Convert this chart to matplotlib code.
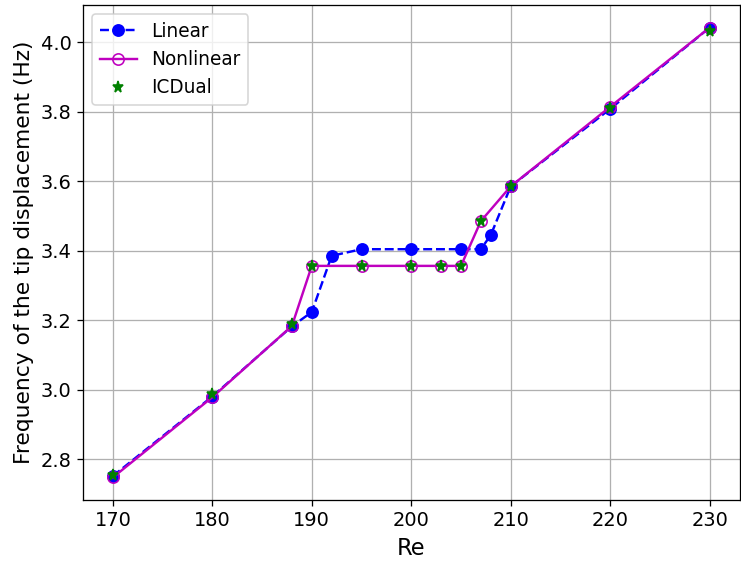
import numpy as np
import matplotlib
matplotlib.use("Agg")
import matplotlib.pyplot as plt

# Reynolds numbers and tip displacement frequencies
re_lin = [170, 180, 188, 190, 192, 195, 200, 205, 207, 208, 210, 220, 230]
f_lin = [2.752, 2.981, 3.183, 3.224, 3.386, 3.405, 3.405, 3.405, 3.405, 3.446, 3.586, 3.809, 4.043]

re_nl = [170, 180, 188, 190, 195, 200, 203, 205, 207, 210, 220, 230]
f_nl = [2.748, 2.979, 3.184, 3.357, 3.357, 3.357, 3.357, 3.357, 3.486, 3.586, 3.815, 4.043]

re_ic = [170, 180, 188, 190, 195, 200, 203, 205, 207, 210, 220, 230]
f_ic = [2.756, 2.987, 3.189, 3.357, 3.357, 3.357, 3.357, 3.357, 3.486, 3.586, 3.812, 4.033]

dpi = 116
fig = plt.figure(figsize=(741 / dpi, 563 / dpi), dpi=dpi)
ax = fig.add_subplot(111)
fig.subplots_adjust(left=0.112, right=0.998, bottom=0.112, top=0.991)

ax.plot(re_lin, f_lin, 'bo--', markersize=7, label='Linear')
ax.plot(re_nl, f_nl, 'mo-', markerfacecolor='none', markersize=7, label='Nonlinear')
ax.plot(re_ic, f_ic, 'g*', markersize=7, label='ICDual', linestyle='none')

ax.set_xlabel('Re', fontsize=14)
ax.set_ylabel('Frequency of the tip displacement (Hz)', fontsize=13.5)
ax.tick_params(labelsize=12)
ax.grid(True)
ax.legend(loc='upper left', fontsize=11.5)

fig.savefig('out.png', dpi=dpi)
